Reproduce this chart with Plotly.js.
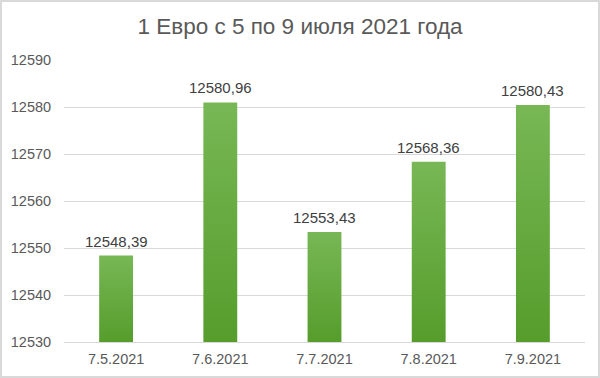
<!DOCTYPE html>
<html>
<head>
<meta charset="utf-8">
<script src="https://cdn.plot.ly/plotly-3.0.1.min.js"></script>
<style>
html,body{margin:0;padding:0;background:#fff;}
#wrap{position:relative;width:600px;height:378px;}
#chart{width:600px;height:378px;}
#frame{position:absolute;left:0;top:0;width:600px;height:378px;box-sizing:border-box;border:2px solid #d9d9d9;pointer-events:none;}
</style>
</head>
<body>
<div id="wrap"><div id="chart"></div><div id="frame"></div></div>
<script>
const categories = ["7.5.2021", "7.6.2021", "7.7.2021", "7.8.2021", "7.9.2021"];
const values = [12548.39, 12580.96, 12553.43, 12568.36, 12580.43];
const labels = ["12548,39", "12580,96", "12553,43", "12568,36", "12580,43"];
const yTicks = [12530, 12540, 12550, 12560, 12570, 12580, 12590];
const titleText = "1 Евро с 5 по 9 июля 2021 года";

const font = "Liberation Sans, Arial, sans-serif";
const yMin = yTicks[0], yMax = yTicks[yTicks.length - 1];
const trace = {
  type: "bar",
  x: categories,
  y: values,
  marker: {color: "#68a83e"},
  hoverinfo: "none"
};
const annotations = categories.map((c, i) => ({
  x: c, y: values[i], xref: "x", yref: "y",
  text: labels[i], showarrow: false,
  yanchor: "bottom", yshift: 4,
  font: {family: font, size: 15, color: "#404040"}
}));
const layout = {
  width: 600, height: 378,
  margin: {l: 64, r: 15, t: 60, b: 36},
  paper_bgcolor: "#ffffff",
  plot_bgcolor: "#ffffff",
  bargap: 0.675,
  showlegend: false,
  annotations: annotations,
  title: {
    text: titleText,
    font: {family: font, size: 22.5, color: "#595959"},
    x: 0.5, xref: "container", xanchor: "center",
    y: 1 - 26/378, yref: "container", yanchor: "middle"
  },
  xaxis: {
    type: "category",
    showgrid: false,
    showline: true, linecolor: "#d9d9d9", linewidth: 1,
    ticks: "outside", ticklen: 4, tickcolor: "rgba(0,0,0,0)",
    tickfont: {family: font, size: 14.5, color: "#595959"},
    zeroline: false
  },
  yaxis: {
    range: [yMin, yMax],
    tickvals: yTicks,
    ticktext: yTicks.map(String),
    showgrid: true, gridcolor: "#d9d9d9", gridwidth: 1,
    zeroline: false, showline: false,
    ticks: "outside", ticklen: 9, tickcolor: "rgba(0,0,0,0)",
    tickfont: {family: font, size: 14.5, color: "#595959"}
  }
};
Plotly.newPlot("chart", [trace], layout, {staticPlot: true, displayModeBar: false}).then(gd => {
  const svg = gd.querySelector("svg.main-svg");
  const ns = "http://www.w3.org/2000/svg";
  const ya = gd._fullLayout.yaxis;
  let defs = svg.querySelector("defs");
  if (!defs) { defs = document.createElementNS(ns, "defs"); svg.insertBefore(defs, svg.firstChild); }
  const paths = gd.querySelectorAll(".barlayer .point path");
  paths.forEach((p, i) => {
    const lg = document.createElementNS(ns, "linearGradient");
    const id = "barGrad" + i;
    lg.setAttribute("id", id);
    lg.setAttribute("gradientUnits", "userSpaceOnUse");
    lg.setAttribute("x1", "0"); lg.setAttribute("x2", "0");
    lg.setAttribute("y1", String(ya.l2p(values[i])));
    lg.setAttribute("y2", String(ya.l2p(yMin)));
    [["0%", "#78b755"], ["100%", "#569d2c"]].forEach(([o, c]) => {
      const s = document.createElementNS(ns, "stop");
      s.setAttribute("offset", o); s.setAttribute("stop-color", c);
      lg.appendChild(s);
    });
    defs.appendChild(lg);
    p.style.setProperty("fill", "url(#" + id + ")", "important");
    p.style.setProperty("fill-opacity", "1", "important");
  });
});
</script>
</body>
</html>
